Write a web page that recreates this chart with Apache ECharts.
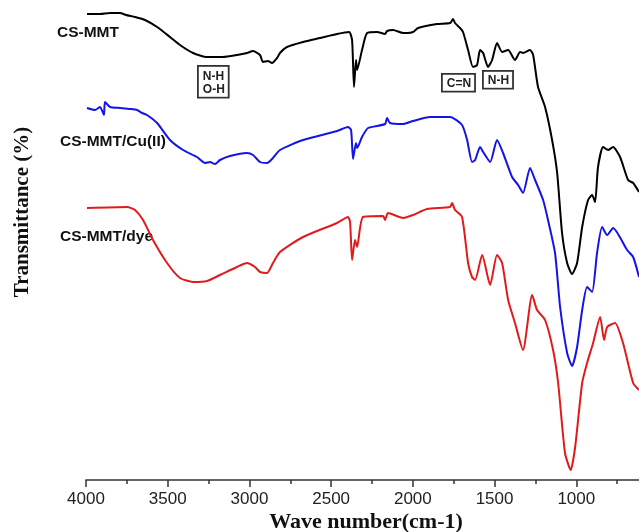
<!DOCTYPE html>
<html><head><meta charset="utf-8">
<script src="https://cdn.jsdelivr.net/npm/echarts@6/dist/echarts.min.js"></script>
<style>html,body{margin:0;padding:0;background:#fff}#c{width:639px;height:532px}</style>
</head><body><div id="c"></div>
<script>
// x tick labels (wave number, cm-1)
const xTicks = [4000, 3500, 3000, 2500, 2000, 1500, 1000];
const seriesNames = ['CS-MMT', 'CS-MMT/Cu(II)', 'CS-MMT/dye'];

// CS-MMT (black)
const wnA = [3994,3914,3853,3792,3755,3700,3639,3565,3486,3425,3345,3259,3162,3076,3015,2978,2935,2917,2886,2862,2831,2813,2770,2672,2568,2464,2390,2372,2360,2348,2341,2311,2280,2219,2170,2158,2121,2060,2035,1999,1968,1852,1772,1754,1742,1711,1693,1662,1632,1607,1589,1570,1540,1515,1485,1454,1417,1375,1344,1326,1283,1264,1234,1191,1148,1117,1087,1056,1026,995,964,928,903,885,867,836,805,775,732,683,652,616];
const tA  = [466,466,467,467,465,463,460,453,443,435,427,423,423,425,427,429,425,418,419,417,422,427,433,438,442,446,448,440,393,420,410,430,447,448,446,449,450,447,447,448,452,456,457,461,457,452,448,430,413,415,430,427,413,420,437,428,430,420,428,427,430,425,393,373,340,307,247,217,206,217,253,280,285,278,313,333,330,333,323,300,297,288];

// CS-MMT/Cu(II) (blue)
const wnB = [3994,3945,3914,3890,3884,3853,3792,3731,3688,3657,3627,3565,3486,3406,3321,3272,3241,3211,3180,3119,3015,2978,2935,2892,2856,2813,2672,2464,2397,2378,2366,2348,2341,2311,2274,2170,2158,2140,2060,1999,1895,1772,1699,1668,1638,1619,1589,1570,1527,1485,1448,1393,1356,1326,1283,1252,1203,1173,1130,1099,1056,1026,995,964,934,903,873,842,811,775,689,652,616];
const tB  = [372,370,373,365,378,373,372,371,370,367,365,357,340,330,323,317,318,316,320,324,327,325,318,317,322,330,340,349,353,350,321,337,332,343,352,356,362,357,356,359,363,363,355,340,318,320,333,328,318,340,327,303,295,287,312,300,280,260,227,173,127,114,133,170,193,188,227,253,245,252,230,223,203];

// CS-MMT/dye (red)
const wnC = [3994,3749,3700,3651,3590,3504,3425,3345,3259,3180,3076,3015,2966,2935,2892,2856,2813,2672,2464,2397,2384,2372,2354,2341,2305,2182,2170,2152,2060,1999,1913,1772,1760,1742,1699,1662,1638,1619,1576,1527,1485,1454,1417,1375,1326,1270,1240,1191,1142,1111,1069,1034,1007,964,934,897,854,830,811,763,714,652,616];
const tC  = [272,273,270,260,240,217,202,198,199,205,213,217,213,208,207,217,228,243,257,263,258,220,240,233,263,264,260,267,262,265,271,273,277,270,263,217,203,200,225,195,225,217,180,157,130,185,170,160,130,97,27,10,33,97,117,137,163,140,153,157,137,97,90];

const colors = ['#000000', '#1414e6', '#e11b1b'];
const zip = (x, y) => x.map((v, i) => [v, y[i]]);

const chart = echarts.init(document.getElementById('c'), null, {renderer: 'canvas'});
const mkSeries = (name, wn, t, color) => ({
  name, type: 'line', data: zip(wn, t), showSymbol: false, smooth: 0.2,
  lineStyle: {color, width: 2}, itemStyle: {color}, animation: false
});
const boxStyle = {fontFamily: 'Liberation Sans, Arial', fontWeight: 'bold', fontSize: 12, fill: '#222',
  borderColor: '#333', borderWidth: 1.8, padding: [3, 3, 1, 4], backgroundColor: '#fff'};
const nameStyle = {fontFamily: 'Liberation Sans, Arial', fontWeight: 'bold', fontSize: 15.5, fill: '#111'};
chart.setOption({
  animation: false,
  grid: {left: 86, right: -19, top: 0, bottom: 52, outerBoundsMode: 'none', containLabel: false},
  xAxis: {
    type: 'value', inverse: true, min: 500, max: 4000, interval: 500,
    axisLine: {show: true, lineStyle: {color: '#333', width: 1.5}},
    axisTick: {show: true, length: 7, lineStyle: {color: '#333', width: 1.5}},
    minorTick: {show: true, splitNumber: 2, length: 4, lineStyle: {color: '#333', width: 1.5}},
    splitLine: {show: false},
    axisLabel: {margin: 11, fontSize: 17, color: '#222', fontFamily: 'Liberation Sans, Arial',
      formatter: v => xTicks.includes(v) ? String(v) : ''}
  },
  yAxis: {type: 'value', min: 0, max: 480, show: false},
  series: [
    mkSeries(seriesNames[0], wnA, tA, colors[0]),
    mkSeries(seriesNames[1], wnB, tB, colors[1]),
    mkSeries(seriesNames[2], wnC, tC, colors[2])
  ],
  graphic: [
    {type: 'text', left: 57, top: 25, style: Object.assign({text: seriesNames[0]}, nameStyle)},
    {type: 'text', left: 60, top: 134, style: Object.assign({text: seriesNames[1]}, nameStyle)},
    {type: 'text', left: 60, top: 229, style: Object.assign({text: seriesNames[2]}, nameStyle)},
    {type: 'text', left: 197, top: 65, style: Object.assign({text: 'N-H\nO-H', lineHeight: 13, align: 'center'}, boxStyle)},
    {type: 'text', left: 441, top: 73, style: Object.assign({text: 'C=N'}, boxStyle)},
    {type: 'text', left: 482, top: 70, style: Object.assign({text: 'N-H'}, boxStyle)},
    {type: 'text', x: 366, y: 522, style: {text: 'Wave number(cm-1)', fontFamily: 'Liberation Serif, Times New Roman', fontWeight: 'bold', fontSize: 22, fill: '#111', align: 'center', verticalAlign: 'middle'}},
    {type: 'text', x: 23, y: 212, rotation: Math.PI / 2, style: {text: 'Transmittance (%)', fontFamily: 'Liberation Serif, Times New Roman', fontWeight: 'bold', fontSize: 21, fill: '#111', align: 'center', verticalAlign: 'middle'}}
  ]
});
</script></body></html>
